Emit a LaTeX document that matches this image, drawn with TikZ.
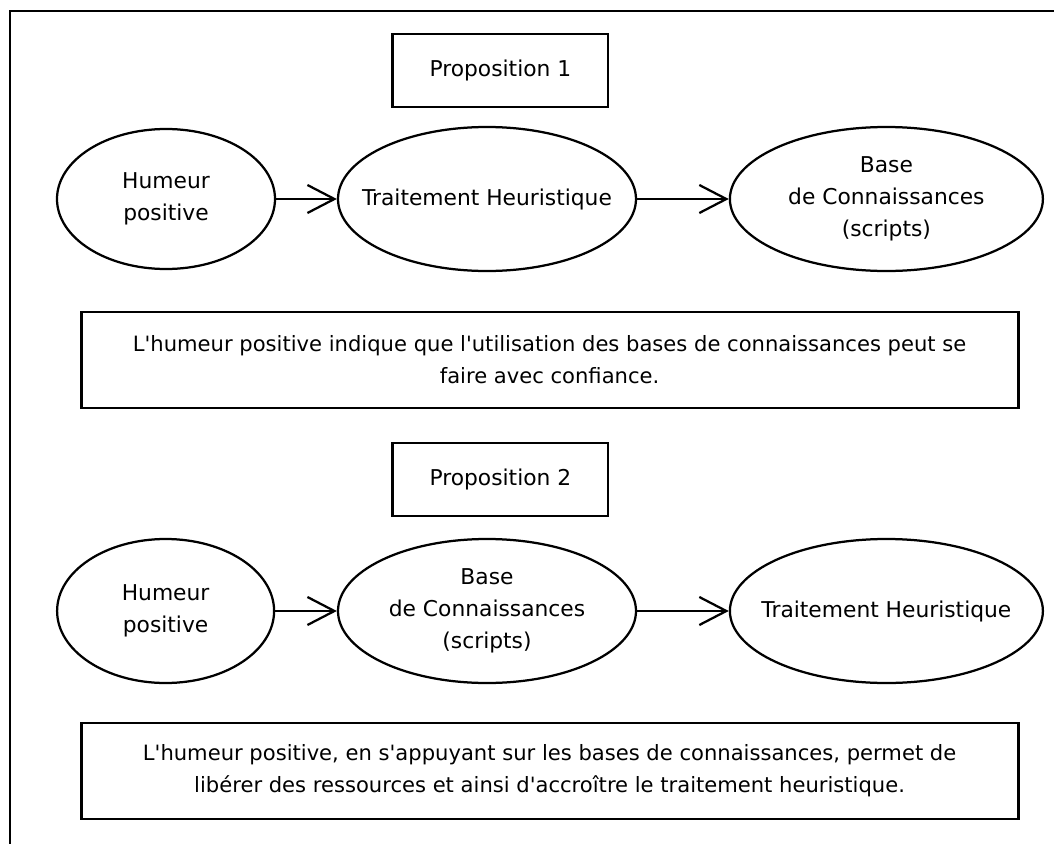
\documentclass[tikz,border=0pt]{standalone}
\usepackage{fontspec}
\setmainfont{DejaVu Sans}[Ligatures=TeXOff]
\usepackage{tikz}
\usetikzlibrary{shapes.geometric, arrows.meta}
\tikzstyle{propbox} = [rectangle,
minimum width=5.375cm,
minimum height=1.825cm,
text centered,
line width=2pt,
font=\fontsize{15.5}{22.7}\selectfont,
draw=black]
\tikzstyle{whellipse} = [ellipse,
minimum width=7.45cm,
minimum height=3.6cm,
inner xsep=-1cm, inner ysep=0pt,
align=center,
line width=1.6pt,
font=\fontsize{15.5}{22.7}\selectfont,
draw=black]
\tikzstyle{textbox} = [rectangle,
minimum width=23.425cm,
minimum height=2.4cm,
align=center,
line width=2pt,
font=\fontsize{15}{22.7}\selectfont,
draw=black]
\tikzstyle{fleche} = [line width=1.6pt, -{Straight Barb[length=0.675cm, width=0.7cm, line width=1.6pt]}]

\begin{document}
\begin{tikzpicture}[node distance=2cm]
		\useasboundingbox (0,0) rectangle (26.35,-21.1);
		\draw [line width=2pt] (0.25,-21.1) -- (0.25,-0.275) -- (26.35,-0.275);

		% Proposition 1
		\node (prop1) [propbox] at (12.51,-1.7625) {Proposition 1};
		\node (hum1) [whellipse, minimum width=5.45cm, minimum height=3.5cm] at (4.15,-4.975) {Humeur\\positive};
		\node (trt1) [whellipse, right of=hum1, xshift=6.025cm] {Traitement Heuristique};
		\node (base1) [whellipse, minimum width=7.825cm, right of=trt1, xshift=7.985cm] {Base\\de Connaissances\\(scripts)};
		\node (txt1) [textbox] at (13.74,-9.0) {L'humeur positive indique que l'utilisation des bases de connaissances peut se\\faire avec confiance.};

		\draw [fleche] (hum1) -- (trt1);
		\draw [fleche] (trt1) -- (base1);

		% Proposition 2
		\node (prop2) [propbox] at (12.51,-11.9875) {Proposition 2};
		\node (hum2) [whellipse, minimum width=5.425cm] at (4.14,-15.275) {Humeur\\positive};
		\node (base2) [whellipse, right of=hum2, xshift=6.035cm] {Base\\de Connaissances\\(scripts)};
		\node (trt2) [whellipse, minimum width=7.825cm, right of=base2, xshift=7.985cm] {Traitement Heuristique};
		\node (txt2) [textbox] at (13.74,-19.275) {L'humeur positive, en s'appuyant sur les bases de connaissances, permet de\\lib\'erer des ressources et ainsi d'accro\^itre le traitement heuristique.};

		\draw [fleche] (hum2) -- (base2);
		\draw [fleche] (base2) -- (trt2);
	\end{tikzpicture}
\end{document}
